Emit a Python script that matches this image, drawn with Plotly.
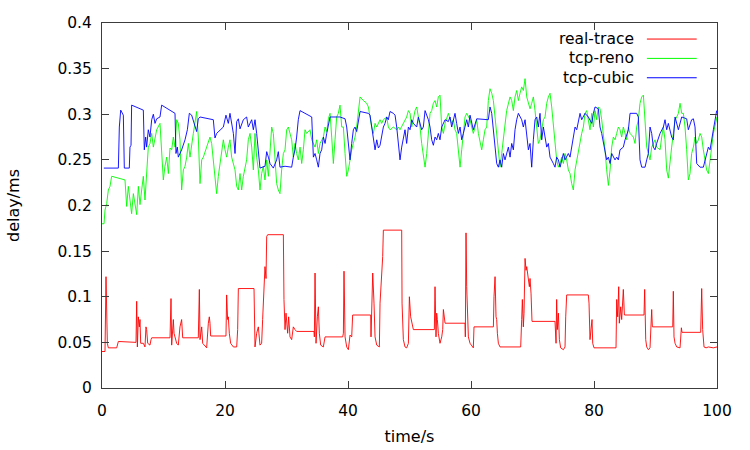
import plotly.graph_objects as go

# (time/s, delay/ms) samples
real_trace = [
    (0.0, 0.040), (0.49, 0.040), (0.65, 0.122), (0.87, 0.049), (1.03, 0.044), (2.39, 0.044),
    (2.66, 0.051), (5.53, 0.050), (5.64, 0.095), (5.75, 0.045), (5.91, 0.078), (6.07, 0.067),
    (6.18, 0.075), (6.29, 0.049), (6.72, 0.049), (6.99, 0.045), (7.15, 0.067), (7.26, 0.064),
    (7.43, 0.049), (7.8, 0.047), (7.97, 0.053), (8.08, 0.055), (11.06, 0.055), (11.22, 0.098),
    (11.33, 0.047), (11.49, 0.067), (11.6, 0.075), (11.71, 0.060), (12.14, 0.049), (12.41, 0.047),
    (12.68, 0.067), (12.95, 0.075), (13.12, 0.055), (15.66, 0.055), (15.83, 0.108), (15.94, 0.053),
    (16.1, 0.064), (16.21, 0.067), (16.37, 0.049), (17.02, 0.044), (17.29, 0.071), (17.45, 0.078),
    (17.56, 0.071), (17.67, 0.057), (20.16, 0.057), (20.27, 0.102), (20.43, 0.075), (20.54, 0.078),
    (20.7, 0.060), (20.92, 0.049), (21.36, 0.045), (21.9, 0.045), (22.06, 0.064), (22.17, 0.109),
    (24.72, 0.109), (24.77, 0.086), (24.88, 0.045), (25.15, 0.060), (25.42, 0.067), (25.69, 0.047),
    (25.96, 0.049), (26.12, 0.075), (26.34, 0.122), (26.5, 0.133), (26.67, 0.120), (26.78, 0.166),
    (26.94, 0.168), (29.49, 0.168), (29.59, 0.097), (29.76, 0.064), (29.92, 0.082), (30.03, 0.075),
    (30.19, 0.060), (30.35, 0.078), (30.57, 0.056), (30.84, 0.053), (31.11, 0.067), (31.38, 0.064),
    (31.65, 0.062), (34.48, 0.062), (34.53, 0.056), (34.64, 0.126), (34.8, 0.049), (35.02, 0.078),
    (35.18, 0.089), (35.34, 0.060), (35.56, 0.047), (35.99, 0.045), (36.27, 0.056), (39.14, 0.056),
    (39.25, 0.060), (39.35, 0.128), (39.52, 0.056), (39.79, 0.045), (40.06, 0.042), (40.33, 0.058),
    (40.6, 0.056), (40.76, 0.080), (43.69, 0.080), (43.74, 0.056), (43.85, 0.104), (44.02, 0.126),
    (44.23, 0.093), (44.4, 0.056), (44.67, 0.047), (45.1, 0.045), (45.21, 0.093), (45.48, 0.126),
    (45.64, 0.144), (45.75, 0.173), (48.73, 0.173), (48.79, 0.093), (49.0, 0.053), (49.27, 0.045),
    (49.54, 0.044), (49.82, 0.049), (49.98, 0.100), (50.19, 0.078), (50.41, 0.071), (50.63, 0.064),
    (54.04, 0.064), (54.15, 0.111), (54.31, 0.056), (54.42, 0.082), (54.53, 0.075), (54.69, 0.060),
    (54.96, 0.049), (55.24, 0.056), (55.4, 0.064), (55.51, 0.086), (55.78, 0.071), (59.03, 0.071),
    (59.08, 0.056), (59.19, 0.170), (59.3, 0.111), (59.57, 0.056), (59.84, 0.049), (60.38, 0.044),
    (60.49, 0.067), (60.66, 0.067), (63.64, 0.067), (63.74, 0.100), (63.91, 0.122), (64.07, 0.078),
    (64.18, 0.075), (64.29, 0.060), (64.45, 0.049), (64.72, 0.045), (65.26, 0.045), (68.08, 0.045),
    (68.24, 0.075), (68.35, 0.097), (68.51, 0.067), (68.62, 0.082), (68.79, 0.142), (68.95, 0.129),
    (69.06, 0.133), (69.33, 0.122), (69.49, 0.111), (69.6, 0.120), (69.76, 0.104), (69.92, 0.073),
    (73.66, 0.073), (73.83, 0.049), (73.93, 0.097), (74.04, 0.064), (74.21, 0.082), (74.37, 0.053),
    (74.58, 0.044), (75.02, 0.042), (75.29, 0.045), (75.4, 0.078), (75.56, 0.102), (79.08, 0.102),
    (79.19, 0.093), (79.35, 0.053), (79.52, 0.064), (79.68, 0.075), (79.79, 0.049), (80.0, 0.044),
    (83.58, 0.044), (83.69, 0.097), (83.85, 0.078), (84.02, 0.111), (84.12, 0.071), (84.34, 0.089),
    (84.5, 0.075), (84.77, 0.108), (84.94, 0.080), (88.13, 0.080), (88.24, 0.108), (88.41, 0.053),
    (88.57, 0.045), (88.84, 0.042), (89.11, 0.044), (89.38, 0.086), (89.49, 0.067), (92.8, 0.067),
    (92.9, 0.106), (93.01, 0.056), (93.18, 0.049), (93.45, 0.045), (93.99, 0.044), (94.21, 0.066),
    (94.31, 0.061), (97.35, 0.061), (97.51, 0.109), (97.67, 0.064), (97.89, 0.045), (98.22, 0.044),
    (98.6, 0.045), (99.41, 0.044), (100.0, 0.045),
]

tcp_reno = [
    (0.0, 0.180), (0.33, 0.180), (0.49, 0.195), (0.76, 0.202), (1.03, 0.217), (1.3, 0.221),
    (1.57, 0.232), (3.74, 0.228), (4.01, 0.199), (4.28, 0.221), (4.55, 0.206), (4.82, 0.191),
    (5.1, 0.213), (5.37, 0.199), (5.64, 0.190), (5.91, 0.221), (6.18, 0.201), (6.45, 0.217),
    (6.72, 0.232), (6.99, 0.206), (7.26, 0.235), (7.53, 0.264), (7.8, 0.268), (8.08, 0.279),
    (8.35, 0.264), (8.62, 0.275), (8.89, 0.283), (9.43, 0.290), (9.7, 0.261), (9.97, 0.228),
    (10.24, 0.243), (10.52, 0.253), (10.79, 0.235), (11.06, 0.263), (11.33, 0.261), (11.6, 0.275),
    (11.87, 0.264), (12.14, 0.294), (12.41, 0.290), (12.68, 0.272), (12.95, 0.217), (13.23, 0.239),
    (13.5, 0.243), (13.77, 0.253), (14.04, 0.268), (14.31, 0.253), (14.85, 0.279), (15.12, 0.290),
    (15.39, 0.303), (15.66, 0.275), (15.94, 0.224), (16.21, 0.250), (16.48, 0.253), (17.02, 0.264),
    (17.56, 0.275), (17.83, 0.268), (18.1, 0.250), (18.37, 0.239), (18.64, 0.213), (18.91, 0.232),
    (19.19, 0.246), (19.46, 0.264), (19.73, 0.272), (20.0, 0.261), (20.27, 0.253), (20.54, 0.264),
    (20.81, 0.272), (21.08, 0.253), (21.63, 0.239), (21.9, 0.221), (22.17, 0.217), (22.44, 0.235),
    (22.71, 0.217), (22.98, 0.232), (23.52, 0.250), (23.79, 0.272), (24.07, 0.279), (24.34, 0.264),
    (24.61, 0.239), (24.88, 0.279), (25.15, 0.253), (25.42, 0.239), (25.69, 0.217), (25.96, 0.235),
    (26.23, 0.243), (26.5, 0.228), (26.78, 0.250), (27.05, 0.232), (27.32, 0.264), (27.59, 0.286),
    (27.86, 0.279), (28.13, 0.253), (28.4, 0.224), (28.67, 0.217), (28.94, 0.213), (29.21, 0.239),
    (29.49, 0.257), (29.76, 0.261), (30.03, 0.283), (30.3, 0.286), (30.57, 0.279), (30.84, 0.272),
    (31.11, 0.253), (31.38, 0.268), (31.65, 0.257), (31.92, 0.250), (32.2, 0.264), (32.47, 0.246),
    (32.74, 0.261), (33.01, 0.283), (33.28, 0.279), (33.82, 0.283), (34.1, 0.272), (34.37, 0.268),
    (34.64, 0.264), (34.91, 0.272), (35.18, 0.257), (35.45, 0.268), (36.0, 0.275), (36.27, 0.286),
    (36.54, 0.281), (36.81, 0.295), (37.08, 0.301), (37.35, 0.275), (37.62, 0.246), (37.89, 0.272),
    (38.16, 0.297), (38.43, 0.301), (38.7, 0.310), (38.98, 0.286), (39.25, 0.286), (39.52, 0.257),
    (39.79, 0.232), (40.06, 0.239), (40.33, 0.253), (40.6, 0.261), (40.87, 0.268), (41.14, 0.275),
    (41.41, 0.286), (41.69, 0.304), (41.96, 0.319), (42.5, 0.315), (43.04, 0.312), (43.31, 0.308),
    (43.58, 0.295), (43.85, 0.286), (44.12, 0.279), (44.4, 0.290), (44.67, 0.286), (45.21, 0.294),
    (45.48, 0.290), (45.75, 0.294), (46.29, 0.297), (46.56, 0.286), (46.83, 0.283), (47.38, 0.286),
    (47.92, 0.283), (48.19, 0.286), (48.46, 0.283), (49.0, 0.290), (49.54, 0.297), (49.82, 0.304),
    (50.09, 0.301), (50.36, 0.286), (50.63, 0.294), (50.9, 0.304), (51.17, 0.308), (51.44, 0.297),
    (51.71, 0.286), (51.98, 0.268), (52.25, 0.257), (52.53, 0.242), (52.8, 0.257), (53.07, 0.279),
    (53.34, 0.301), (53.61, 0.304), (53.88, 0.312), (54.15, 0.315), (54.42, 0.308), (54.69, 0.319),
    (54.96, 0.321), (55.24, 0.286), (55.51, 0.279), (55.78, 0.290), (56.05, 0.297), (56.32, 0.301),
    (56.59, 0.295), (56.86, 0.290), (57.13, 0.294), (57.4, 0.283), (57.67, 0.279), (57.95, 0.257),
    (58.22, 0.242), (58.49, 0.261), (58.76, 0.279), (59.03, 0.297), (59.3, 0.301), (59.84, 0.294),
    (60.11, 0.286), (60.38, 0.279), (60.66, 0.286), (60.93, 0.294), (61.2, 0.279), (61.47, 0.268),
    (61.74, 0.261), (62.01, 0.272), (62.28, 0.283), (62.55, 0.286), (62.82, 0.315), (63.09, 0.328),
    (63.37, 0.323), (63.64, 0.315), (63.91, 0.297), (64.18, 0.279), (64.45, 0.257), (64.72, 0.242),
    (64.99, 0.257), (65.26, 0.275), (65.53, 0.294), (65.8, 0.304), (66.35, 0.319), (66.62, 0.315),
    (66.89, 0.304), (67.16, 0.319), (67.43, 0.326), (67.7, 0.315), (67.97, 0.323), (68.24, 0.330),
    (68.51, 0.326), (68.79, 0.339), (69.06, 0.319), (69.33, 0.312), (69.6, 0.306), (69.87, 0.312),
    (70.14, 0.319), (70.41, 0.304), (70.68, 0.286), (70.95, 0.268), (71.22, 0.272), (71.5, 0.286),
    (71.77, 0.294), (72.04, 0.297), (72.31, 0.312), (72.58, 0.319), (72.85, 0.323), (73.12, 0.308),
    (73.39, 0.286), (73.66, 0.268), (73.93, 0.250), (74.21, 0.242), (74.48, 0.246), (74.75, 0.253),
    (75.02, 0.246), (75.29, 0.257), (75.56, 0.250), (75.83, 0.239), (76.1, 0.235), (76.37, 0.224),
    (76.64, 0.217), (76.92, 0.239), (77.19, 0.250), (77.46, 0.257), (77.73, 0.272), (78.0, 0.279),
    (78.27, 0.286), (78.54, 0.301), (78.81, 0.304), (79.08, 0.294), (79.35, 0.283), (79.63, 0.301),
    (79.9, 0.286), (80.17, 0.304), (80.44, 0.294), (80.71, 0.308), (80.98, 0.306), (81.25, 0.294),
    (81.52, 0.279), (81.79, 0.261), (82.06, 0.239), (82.34, 0.222), (82.61, 0.239), (82.88, 0.264),
    (83.15, 0.275), (83.42, 0.272), (83.69, 0.279), (83.96, 0.286), (84.23, 0.283), (84.5, 0.275),
    (84.77, 0.286), (85.05, 0.279), (85.32, 0.272), (85.59, 0.286), (85.86, 0.279), (86.4, 0.275),
    (86.67, 0.268), (86.94, 0.286), (87.21, 0.294), (87.48, 0.312), (87.76, 0.319), (88.03, 0.321),
    (88.3, 0.294), (88.57, 0.264), (88.84, 0.257), (89.11, 0.250), (89.38, 0.264), (89.65, 0.268),
    (89.92, 0.272), (90.19, 0.264), (90.74, 0.261), (91.01, 0.275), (91.28, 0.286), (91.55, 0.272),
    (91.82, 0.239), (92.09, 0.230), (92.36, 0.250), (92.63, 0.264), (92.9, 0.279), (93.18, 0.294),
    (93.45, 0.297), (93.72, 0.301), (93.99, 0.312), (94.26, 0.301), (94.53, 0.301), (94.8, 0.286),
    (95.07, 0.261), (95.34, 0.228), (95.61, 0.235), (95.88, 0.257), (96.16, 0.264), (96.43, 0.275),
    (96.7, 0.268), (96.97, 0.272), (97.24, 0.279), (97.51, 0.275), (97.78, 0.261), (98.05, 0.250),
    (98.32, 0.239), (98.6, 0.235), (98.87, 0.253), (99.14, 0.264), (99.41, 0.279), (99.68, 0.286),
    (100.0, 0.297),
]

tcp_cubic = [
    (0.3, 0.241), (2.66, 0.241), (2.82, 0.286), (3.04, 0.3045), (3.47, 0.299), (3.63, 0.241),
    (4.44, 0.241), (4.55, 0.264), (4.72, 0.266), (4.82, 0.310), (6.72, 0.3045), (6.88, 0.261),
    (7.1, 0.275), (7.26, 0.264), (7.53, 0.283), (7.8, 0.275), (8.08, 0.294), (8.35, 0.300),
    (8.62, 0.290), (8.89, 0.295), (9.43, 0.297), (9.7, 0.310), (11.87, 0.301), (12.03, 0.257),
    (12.25, 0.264), (12.41, 0.253), (12.95, 0.261), (13.5, 0.272), (13.88, 0.283), (14.2, 0.301),
    (14.58, 0.299), (15.12, 0.286), (15.39, 0.281), (15.66, 0.295), (15.94, 0.297), (18.1, 0.294),
    (18.37, 0.274), (18.64, 0.279), (19.19, 0.283), (19.73, 0.286), (20.16, 0.299), (20.54, 0.290),
    (20.81, 0.301), (21.08, 0.290), (21.36, 0.279), (21.63, 0.257), (21.9, 0.292), (22.17, 0.295),
    (22.44, 0.284), (22.98, 0.294), (23.52, 0.297), (23.79, 0.286), (24.34, 0.294), (24.61, 0.283),
    (24.88, 0.294), (25.15, 0.279), (25.69, 0.241), (26.5, 0.243), (26.78, 0.259), (27.05, 0.253),
    (27.32, 0.246), (27.86, 0.241), (28.4, 0.250), (28.67, 0.259), (28.94, 0.242), (29.76, 0.243),
    (30.84, 0.242), (31.11, 0.253), (31.38, 0.261), (31.65, 0.275), (31.92, 0.294), (32.2, 0.304),
    (34.1, 0.297), (34.37, 0.253), (34.64, 0.257), (34.91, 0.250), (35.18, 0.242), (35.45, 0.257),
    (35.72, 0.261), (36.0, 0.275), (36.27, 0.268), (36.54, 0.279), (36.81, 0.290), (37.08, 0.297),
    (38.7, 0.297), (39.52, 0.295), (39.79, 0.286), (40.06, 0.264), (40.33, 0.250), (40.6, 0.268),
    (40.87, 0.283), (41.14, 0.286), (41.41, 0.281), (41.96, 0.303), (43.31, 0.301), (43.58, 0.299),
    (43.85, 0.286), (44.12, 0.270), (44.4, 0.261), (44.67, 0.272), (44.94, 0.263), (45.21, 0.266),
    (45.48, 0.275), (45.75, 0.286), (46.02, 0.290), (46.29, 0.297), (46.56, 0.294), (46.83, 0.303),
    (47.38, 0.301), (47.65, 0.299), (47.92, 0.286), (48.19, 0.264), (48.46, 0.250), (48.73, 0.264),
    (49.0, 0.275), (49.27, 0.283), (49.54, 0.268), (49.82, 0.286), (50.09, 0.283), (50.36, 0.294),
    (50.63, 0.290), (51.17, 0.286), (51.44, 0.297), (51.98, 0.283), (52.25, 0.286), (52.53, 0.304),
    (53.07, 0.294), (53.34, 0.286), (53.61, 0.272), (53.88, 0.266), (54.15, 0.275), (54.42, 0.272),
    (54.69, 0.279), (54.96, 0.272), (55.24, 0.286), (55.78, 0.294), (56.32, 0.292), (56.59, 0.297),
    (56.86, 0.286), (57.13, 0.294), (57.4, 0.301), (57.67, 0.290), (57.95, 0.279), (58.22, 0.286),
    (58.49, 0.272), (58.76, 0.279), (59.3, 0.294), (59.57, 0.286), (59.84, 0.299), (60.38, 0.283),
    (60.93, 0.295), (62.82, 0.294), (63.09, 0.308), (63.37, 0.301), (63.64, 0.283), (63.91, 0.261),
    (64.18, 0.246), (64.45, 0.242), (64.72, 0.250), (64.99, 0.242), (65.26, 0.257), (65.53, 0.250),
    (65.8, 0.257), (66.08, 0.264), (66.35, 0.253), (66.62, 0.268), (66.89, 0.261), (67.16, 0.283),
    (67.43, 0.294), (67.7, 0.301), (68.24, 0.294), (68.51, 0.286), (68.79, 0.294), (69.06, 0.279),
    (69.33, 0.261), (69.6, 0.268), (69.87, 0.242), (70.14, 0.272), (70.41, 0.294), (70.68, 0.297),
    (70.95, 0.286), (71.22, 0.301), (71.5, 0.272), (71.77, 0.286), (72.04, 0.275), (72.31, 0.264),
    (72.58, 0.268), (72.85, 0.253), (73.39, 0.246), (73.66, 0.242), (73.93, 0.253), (74.21, 0.250),
    (74.48, 0.242), (74.75, 0.250), (75.02, 0.257), (75.29, 0.250), (75.83, 0.257), (76.1, 0.253),
    (76.37, 0.264), (76.64, 0.272), (76.92, 0.286), (77.19, 0.283), (77.46, 0.294), (77.73, 0.301),
    (78.0, 0.294), (78.54, 0.301), (79.08, 0.297), (79.63, 0.290), (79.9, 0.301), (80.17, 0.308),
    (80.71, 0.306), (80.98, 0.286), (81.25, 0.279), (81.52, 0.268), (81.79, 0.257), (82.06, 0.250),
    (82.34, 0.253), (82.61, 0.246), (82.88, 0.257), (83.42, 0.250), (83.69, 0.253), (83.96, 0.250),
    (84.23, 0.261), (84.77, 0.264), (85.05, 0.272), (85.59, 0.283), (85.86, 0.301), (86.94, 0.301),
    (87.21, 0.297), (87.48, 0.250), (87.76, 0.242), (88.3, 0.242), (88.57, 0.250), (88.84, 0.257),
    (89.11, 0.286), (89.38, 0.279), (89.65, 0.264), (89.92, 0.261), (90.19, 0.268), (90.74, 0.279),
    (91.28, 0.286), (91.55, 0.294), (91.82, 0.283), (92.09, 0.290), (92.63, 0.275), (92.9, 0.272),
    (93.18, 0.297), (93.72, 0.283), (94.26, 0.297), (95.07, 0.295), (95.34, 0.283), (95.88, 0.294),
    (96.16, 0.295), (96.43, 0.286), (96.7, 0.246), (97.24, 0.242), (97.78, 0.242), (98.05, 0.250),
    (98.32, 0.257), (98.6, 0.264), (98.87, 0.261), (99.14, 0.275), (99.41, 0.283), (99.95, 0.304),
]

series_names = ["real-trace", "tcp-reno", "tcp-cubic"]
series_colors = ["#ff0000", "#00ff00", "#0000ff"]
x_title = "time/s"
y_title = "delay/ms"

FONT = "DejaVu Sans"
AXIS_COLOR = "#3c3c3c"

fig = go.Figure()
for data, name, color in zip([real_trace, tcp_reno, tcp_cubic], series_names, series_colors):
    fig.add_trace(go.Scatter(
        x=[p[0] for p in data], y=[p[1] for p in data],
        mode="lines", name=name, line=dict(color=color, width=0.9),
        showlegend=False,
    ))

# gnuplot-style key: right-aligned labels with line samples to their right
legend_rows_y = [0.956, 0.903, 0.850]
for name, color, yy in zip(series_names, series_colors, legend_rows_y):
    fig.add_annotation(x=0.868, y=yy, xref="paper", yref="paper", text=name,
                       showarrow=False, xanchor="right", yanchor="middle",
                       font=dict(family=FONT, size=15.5, color="black"))
    fig.add_shape(type="line", xref="paper", yref="paper", x0=0.886, x1=0.967, y0=yy, y1=yy,
                  line=dict(color=color, width=1))

fig.update_layout(
    width=750, height=450,
    margin=dict(l=102, r=33, t=23, b=62),
    paper_bgcolor="white", plot_bgcolor="white",
    font=dict(family=FONT, size=15.5, color="black"),
    showlegend=False,
)
fig.update_xaxes(
    range=[0, 100], tick0=0, dtick=20, ticks="inside", ticklen=7, tickcolor=AXIS_COLOR,
    showline=True, linecolor=AXIS_COLOR, linewidth=1, mirror="ticks", showgrid=False,
    zeroline=False, automargin=False, ticklabelstandoff=8,
    title=dict(text=x_title, standoff=12, font=dict(size=16)),
)
fig.update_yaxes(
    range=[0, 0.4], tick0=0, dtick=0.05, ticks="inside", ticklen=7, tickcolor=AXIS_COLOR,
    showline=True, linecolor=AXIS_COLOR, linewidth=1, mirror="ticks", showgrid=False,
    zeroline=False, automargin=False, ticklabelstandoff=6,
    title=dict(text=y_title, standoff=33, font=dict(size=16)),
)

fig.write_html("out.html")
